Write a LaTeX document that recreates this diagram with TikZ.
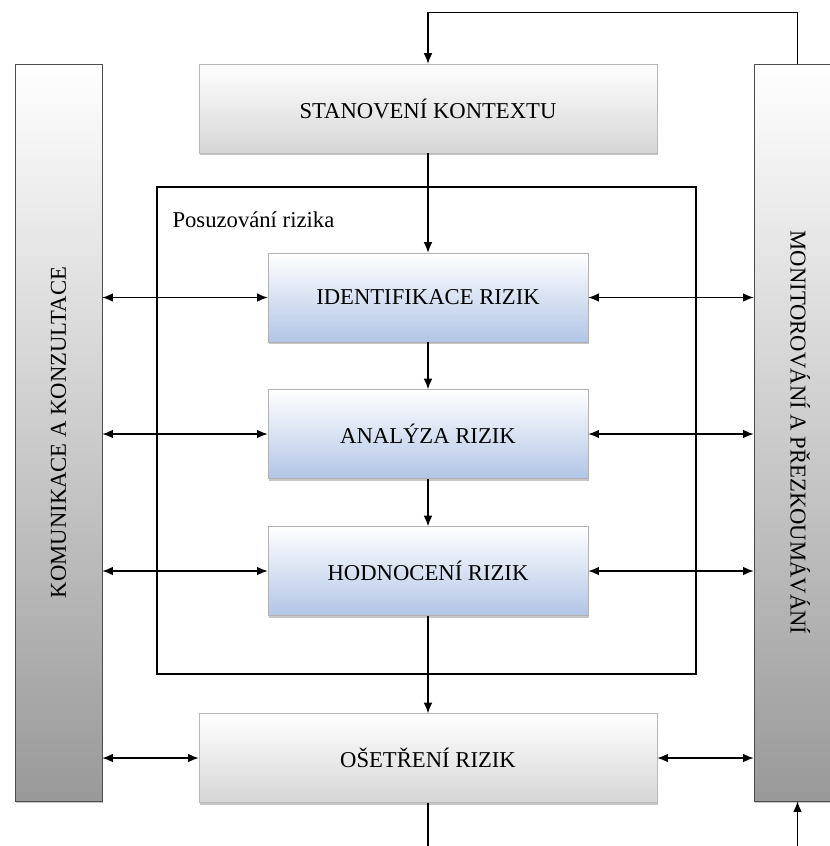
\documentclass[tikz,border=0pt]{standalone}
\usepackage{fontspec}
\setmainfont{Liberation Serif}
\usetikzlibrary{arrows.meta,shadows}
\definecolor{boxblue}{RGB}{178,197,230}

\begin{document}
\begin{tikzpicture}[x=0.75pt, y=-0.75pt, >={Latex[length=8pt,width=6.5pt]},
    every node/.style={font=\fontsize{17}{20}\selectfont},
    boxshadow/.style={drop shadow={shadow xshift=1pt, shadow yshift=-1.8pt, fill=gray, opacity=0.45}},
    greybox/.style={draw=gray!55, top color=white, bottom color=gray!32, minimum width=343.5pt, minimum height=66.5pt, boxshadow},
    bluebox/.style={draw=gray!60, top color=white, bottom color=boxblue, minimum width=240pt, minimum height=66.5pt, boxshadow},
    sidebar/.style={draw=gray!60!black, top color=white, bottom color=black!40, minimum width=65.25pt, minimum height=552.75pt, boxshadow},
    link/.style={line width=1.1pt}]
    \clip (0,0) rectangle (830,846);

    \node[draw=black, line width=1.1pt, minimum width=404.25pt, minimum height=365.25pt] at (426.5,430.5)(frame){};
    \node[anchor=base west, inner sep=0pt] at ([xshift=12pt, yshift=-30.75pt]frame.north west)(posuz){Posuzování rizika};

    \node[greybox] at (428,108.5)(ctx){STANOVENÍ KONTEXTU};
    \node[bluebox] at (428,297.5)(ident){IDENTIFIKACE RIZIK};
    \node[bluebox] at (428,434)(anal){ANALÝZA RIZIK};
    \node[bluebox] at (428,571)(hodn){HODNOCENÍ RIZIK};
    \node[greybox] at (428,758)(treat){OŠETŘENÍ RIZIK};

    \node[sidebar] at (58.5,432.5)(komun){};
    \node[sidebar] at (797.5,432.5)(monit){};
    \node[rotate=90] at (komun.center)(komuntext){KOMUNIKACE A KONZULTACE};
    \node[rotate=-90] at ([xshift=2pt]monit.center)(monittext){MONITOROVÁNÍ A PŘEZKOUMÁVÁNÍ};

    \coordinate (outbot) at (428,846);
    \coordinate (inbot) at (797.5,846);

    \draw[link,->](monit.north) -- ++(0,-51) -| (ctx.north);
    \draw[link,->](ctx.south) -- (ident.north);
    \draw[link,->](ident.south) -- (anal.north);
    \draw[link,->](anal.south) -- (hodn.north);
    \draw[link,->](hodn.south) -- (treat.north);
    \draw[link](treat.south) -- (outbot);
    \draw[link,->](inbot) -- (monit.south);

    \draw[link,<->](komun.east |- ident.west) -- (ident.west);
    \draw[link,<->](komun.east |- anal.west) -- (anal.west);
    \draw[link,<->](komun.east |- hodn.west) -- (hodn.west);
    \draw[link,<->](komun.east |- treat.west) -- (treat.west);
    \draw[link,<->](ident.east) -- (monit.west |- ident.east);
    \draw[link,<->](anal.east) -- (monit.west |- anal.east);
    \draw[link,<->](hodn.east) -- (monit.west |- hodn.east);
    \draw[link,<->](treat.east) -- (monit.west |- treat.east);
\end{tikzpicture}
\end{document}
